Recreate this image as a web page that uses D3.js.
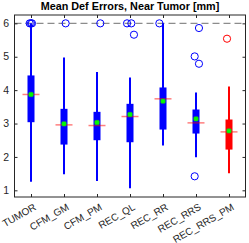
<!DOCTYPE html>
<html>
<head>
<meta charset="utf-8">
<script src="https://cdn.jsdelivr.net/npm/d3@7"></script>
<style>
body { margin: 0; background: #fff; }
text { font-family: "Liberation Sans", Arial, sans-serif; }
</style>
</head>
<body>
<div id="chart"></div>
<script>
// chart data
var categories = ["TUMOR", "CFM_GM", "CFM_PM", "REC_QL", "REC_RR", "REC_RRS", "REC_RRS_PM"];
var q1 = [3.04, 2.37, 2.50, 2.44, 2.82, 2.70, 2.22];
var q3 = [4.44, 3.44, 3.35, 3.59, 4.08, 3.42, 3.12];
var medians = [3.87, 2.96, 2.94, 3.21, 3.74, 3.02, 2.75];
var means = [3.87, 2.99, 3.03, 3.27, 3.67, 3.14, 2.78];
var whiskerLow = [1.26, 1.48, 1.28, 1.06, 2.34, 1.99, 1.51];
var whiskerHigh = [6.0, 4.98, 4.54, 4.38, 6.0, 3.93, 4.11];
// outliers: [value, jitter in category steps]
var outliers = [
  [[6.0, -0.04], [6.0, 0.0], [6.0, 0.03]],
  [[6.0, 0.05]],
  [[6.0, 0.1]],
  [[6.0, -0.09], [6.0, 0.04], [5.66, 0.12]],
  [[6.0, -0.11]],
  [[5.86, 0.09], [5.01, -0.04], [4.79, 0.09], [1.42, -0.04]],
  [[5.54, -0.06]]
];
var yTicks = [1, 2, 3, 4, 5, 6];
var capLine = 6;
var title = "Mean Def Errors, Near Tumor [mm]";

var w = 249, h = 243;
var svg = d3.select("#chart").append("svg")
  .attr("width", w)
  .attr("height", h);

// plot area (don't call it top, window.top is taken)
var pLeft = 14.5, pRight = 245.5, pTop = 15, pBottom = 197;

var x = d3.scalePoint()
  .domain(categories)
  .range([pLeft, pRight])
  .padding(0.5);

var y = d3.scaleLinear()
  .domain([0.8, 6.25])
  .range([pBottom, pTop]);

var axisColor = "#262626";

function colorOf(i) {
  return i == categories.length - 1 ? "#ff0000" : "#0000ff";
}

// dashed cap line
svg.append("line")
  .attr("x1", pLeft).attr("x2", pRight)
  .attr("y1", y(capLine)).attr("y2", y(capLine))
  .attr("stroke", "#8c8c8c")
  .attr("stroke-width", 1.2)
  .attr("stroke-dasharray", "7,4");

// boxes
var g = svg.selectAll(".box")
  .data(categories)
  .enter().append("g")
  .attr("class", "box");

g.append("line")
  .attr("x1", function(d){ return x(d); })
  .attr("x2", function(d){ return x(d); })
  .attr("y1", function(d, i){ return y(whiskerLow[i]); })
  .attr("y2", function(d, i){ return y(whiskerHigh[i]); })
  .attr("stroke", function(d, i){ return colorOf(i); })
  .attr("stroke-width", 2);

g.append("rect")
  .attr("x", function(d){ return x(d) - 3.5; })
  .attr("width", 7)
  .attr("y", function(d, i){ return y(q3[i]); })
  .attr("height", function(d, i){ return y(q1[i]) - y(q3[i]); })
  .attr("fill", function(d, i){ return colorOf(i); });

g.append("line")
  .attr("x1", function(d){ return x(d) - 8.5; })
  .attr("x2", function(d){ return x(d) + 8.5; })
  .attr("y1", function(d, i){ return y(medians[i]); })
  .attr("y2", function(d, i){ return y(medians[i]); })
  .attr("stroke", "#ff0000")
  .attr("stroke-opacity", 0.5)
  .attr("stroke-width", 1.5);

g.append("rect")
  .attr("x", function(d){ return x(d) - 2.2; })
  .attr("y", function(d, i){ return y(means[i]) - 2.2; })
  .attr("width", 4.4)
  .attr("height", 4.4)
  .attr("rx", 1)
  .attr("fill", "#00ff00")
  .attr("stroke", "#2aa82a")
  .attr("stroke-width", 0.6);

// outliers
g.each(function(d, i){
  d3.select(this).selectAll(".out")
    .data(outliers[i])
    .enter().append("circle")
    .attr("class", "out")
    .attr("cx", function(o){ return x(d) + o[1] * x.step(); })
    .attr("cy", function(o){ return y(o[0]); })
    .attr("r", 3.6)
    .attr("fill", "none")
    .attr("stroke", colorOf(i))
    .attr("stroke-width", 1);
});

// axes box with inward ticks
svg.append("g")
  .attr("transform", "translate(0," + pBottom + ")")
  .call(d3.axisBottom(x).tickSize(-3).tickFormat(""))
  .call(function(a){ a.select(".domain").remove(); });
svg.append("g")
  .attr("transform", "translate(0," + pTop + ")")
  .call(d3.axisTop(x).tickSize(-3).tickFormat(""))
  .call(function(a){ a.select(".domain").remove(); });
svg.append("g")
  .attr("transform", "translate(" + pLeft + ",0)")
  .call(d3.axisLeft(y).tickValues(yTicks).tickSize(-3).tickFormat(""))
  .call(function(a){ a.select(".domain").remove(); });
svg.append("g")
  .attr("transform", "translate(" + pRight + ",0)")
  .call(d3.axisRight(y).tickValues(yTicks).tickSize(-3).tickFormat(""))
  .call(function(a){ a.select(".domain").remove(); });
svg.selectAll(".tick line").attr("stroke", axisColor);

svg.append("rect")
  .attr("x", pLeft).attr("y", pTop)
  .attr("width", pRight - pLeft).attr("height", pBottom - pTop)
  .attr("fill", "none")
  .attr("stroke", axisColor)
  .attr("stroke-width", 1);

// tick labels
svg.selectAll(".ylab")
  .data(yTicks)
  .enter().append("text")
  .attr("x", pLeft - 5.5)
  .attr("y", function(d){ return y(d); })
  .attr("dy", "0.35em")
  .attr("text-anchor", "end")
  .attr("font-size", 10.5)
  .attr("fill", axisColor)
  .text(function(d){ return d; });

svg.selectAll(".xlab")
  .data(categories)
  .enter().append("text")
  .attr("text-anchor", "end")
  .attr("font-size", 10)
  .attr("fill", axisColor)
  .attr("transform", function(d){ return "translate(" + (x(d) + 4) + "," + (pBottom + 9) + ") rotate(-30)"; })
  .attr("dy", "0.35em")
  .text(function(d){ return d; });

// title
svg.append("text")
  .attr("x", (pLeft + pRight) / 2)
  .attr("y", 10)
  .attr("text-anchor", "middle")
  .attr("font-size", 10.8)
  .attr("font-weight", "bold")
  .attr("fill", "#000")
  .text(title);
</script>
</body>
</html>
